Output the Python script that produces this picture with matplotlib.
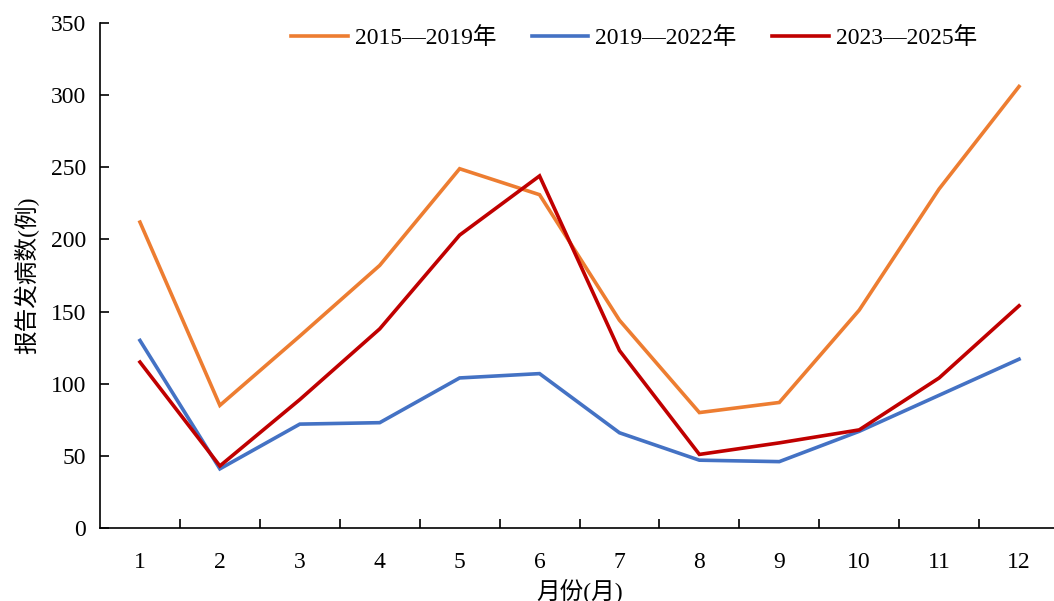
import matplotlib
matplotlib.use('Agg')
import matplotlib.pyplot as plt

plt.rcParams['font.family'] = ['Liberation Serif', 'Noto Sans CJK SC']
plt.rcParams['axes.unicode_minus'] = False

months = [1, 2, 3, 4, 5, 6, 7, 8, 9, 10, 11, 12]
labels = ['2015—2019年', '2019—2022年', '2023—2025年']
cases_2015_2019 = [212, 85, 133, 182, 249, 231, 144, 80, 87, 151, 235, 306]
cases_2019_2022 = [130, 41, 72, 73, 104, 107, 66, 47, 46, 67, 92, 117]
cases_2023_2025 = [115, 43, 89, 138, 203, 244, 123, 51, 59, 68, 104, 154]
colors = ['#ED7D31', '#4472C4', '#C00000']

fig = plt.figure(figsize=(10.54, 6.01), dpi=100)
ax = fig.add_axes([100 / 1054, 73 / 601, 959 / 1054, 505 / 601])

for series, name, c in zip([cases_2015_2019, cases_2019_2022, cases_2023_2025], labels, colors):
    ax.plot(months, series, color=c, linewidth=2.6, label=name, solid_joinstyle='miter')

ax.set_xlim(0.5, 12.5)
ax.set_ylim(0, 350)
ax.set_yticks(range(0, 351, 50))
ax.set_xticks(months)
ax.set_xticks([m + 0.5 for m in months[:-1]], minor=True)
ax.tick_params(axis='x', which='major', length=0, labelsize=17, pad=17)
ax.tick_params(axis='x', which='minor', direction='in', length=6.5, width=1.2)
ax.tick_params(axis='y', direction='in', length=6.5, width=1.2, labelsize=17, pad=10)

for side in ['top', 'right']:
    ax.spines[side].set_visible(False)
for side in ['left', 'bottom']:
    ax.spines[side].set_linewidth(1.2)

ax.set_xlabel('月份(月)', fontsize=17, labelpad=4)
ax.set_ylabel('报告发病数(例)', fontsize=17, labelpad=8)

ax.legend(loc='center', bbox_to_anchor=(0.557, 0.97), ncol=3, frameon=False,
          fontsize=17, handlelength=2.4, columnspacing=1.5, handletextpad=0.3)

fig.savefig('out.png', dpi=100)
